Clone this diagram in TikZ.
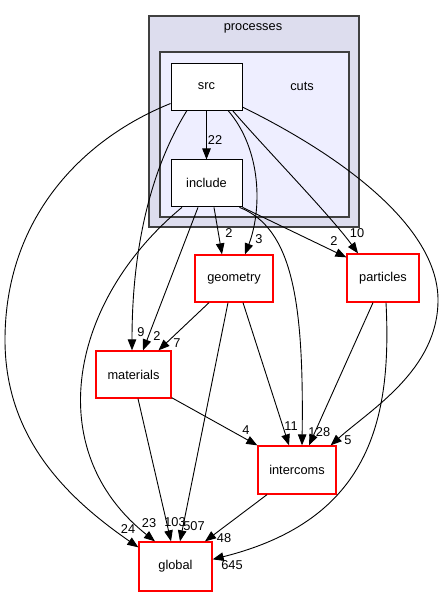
\documentclass[tikz,border=0pt]{standalone}
\usepackage{fontspec}
\setmainfont{Liberation Sans}
\usetikzlibrary{positioning, arrows.meta}
\definecolor{outerfill}{HTML}{DDDDEE}
\definecolor{innerfill}{HTML}{EEEEFF}
\definecolor{framegray}{HTML}{404040}

\begin{document}
\begin{tikzpicture}[
        x=1pt, y=-1pt,
        font=\fontsize{12.8pt}{15pt}\selectfont,
        cluster/.style={draw=framegray, line width=1.2pt, inner sep=0pt},
        dirbox/.style={draw, line width=0.9pt, fill=white, inner sep=0pt,
            minimum width=71pt, minimum height=47pt},
        extdir/.style={draw=red, line width=1.3pt, fill=white, inner sep=0pt,
            minimum height=47pt},
        lbl/.style={inner sep=0pt},
        every path/.style={line width=0.9pt},
        dep/.style={draw, -{Triangle[length=11pt,width=8.5pt]}}
    ]
    \path[fill=white] (0,0) rectangle (444,596);

    % Clusters
    \node (processes) [cluster, fill=outerfill, minimum width=210pt, minimum height=211pt] at (254,121.5) {};
    \node [lbl] at (253,28) {processes};
    \node (cuts) [cluster, fill=innerfill, minimum width=189pt, minimum height=165pt] at (254.5,134.5) {};
    \node [lbl] at (302,86) {cuts};

    % Nodes
    \node (src) [dirbox] at (206.5,86.5) {src};
    \node (include) [dirbox, below=49pt of src] {include};
    \node (geometry) [extdir, minimum width=78pt] at (234,278.5) {geometry};
    \node (particles) [extdir, minimum width=72pt, minimum height=48pt] at (383,278) {particles};
    \node (materials) [extdir, minimum width=75pt] at (133.5,374.5) {materials};
    \node (intercoms) [extdir, minimum width=78pt, minimum height=48pt] at (297,470) {intercoms};
    \node (global) [extdir, minimum width=73pt, minimum height=49pt] at (175.5,566.5) {global};

    % Arrows
    \path[dep] (src) -- (include) node[lbl, at={(215,140)}] {22};
    \path[dep] ([yshift=-17pt]src.west) .. controls (80,140) and (5,220) .. (5,340)
        .. controls (5,440) and (70,500) .. ([yshift=-6pt]global.north west)
        node[lbl, at={(128,529)}] {24};
    \path[dep] ([xshift=-19.5pt]src.south) .. controls (150,170) and (132,250) .. ([xshift=-1.5pt]materials.north)
        node[lbl, at={(141,332)}] {9};
    \path[dep] ([xshift=21.5pt]src.south) .. controls (262,150) and (262,210) .. ([xshift=11pt]geometry.north)
        node[lbl, at={(259,239)}] {3};
    \path[dep] ([xshift=26pt]src.south) .. controls (262,145) and (330,215) .. ([xshift=-25pt]particles.north)
        node[lbl, at={(357,233)}] {10};
    \path[dep] ([yshift=-20.5pt]src.east) .. controls (350,160) and (438,230) .. (438,300)
        .. controls (438,370) and (370,410) .. ([xshift=-6pt]intercoms.north east)
        node[lbl, at={(348,440)}] {5};

    \path[dep] ([xshift=-8.5pt]include.south) -- ([xshift=9.5pt]materials.north) node[lbl, at={(157,336)}] {2};
    \path[dep] ([xshift=-24.5pt]include.south) .. controls (70,300) and (40,450) .. ([xshift=-20.5pt]global.north)
        node[lbl, at={(149,523)}] {23};
    \path[dep] ([xshift=7.5pt]include.south) -- ([xshift=-12pt]geometry.north) node[lbl, at={(229,233)}] {2};
    \path[dep] (include.south east) -- ([yshift=-4pt]particles.north west) node[lbl, at={(334,241)}] {2};
    \path[dep] ([xshift=-3pt]include.south east) .. controls (292,228) and (304,300) .. ([xshift=5pt]intercoms.north)
        node[lbl, at={(312,432)}] {1};

    \path[dep] ([xshift=-25pt]geometry.south) -- ([xshift=25pt]materials.north) node[lbl, at={(177,343)}] {7};
    \path[dep] ([xshift=-6pt]geometry.south) -- ([xshift=4.5pt]global.north) node[lbl, at={(194,526)}] {507};
    \path[dep] ([xshift=9pt]geometry.south) -- ([xshift=-8pt]intercoms.north) node[lbl, at={(291,426)}] {11};

    \path[dep] ([xshift=-10pt]particles.south) -- ([xshift=12pt]intercoms.north) node[lbl, at={(323,432)}] {28};
    \path[dep] ([xshift=3pt]particles.south) .. controls (392,420) and (370,520) .. ([yshift=-18pt]global.north east)
        node[lbl, at={(232,565)}] {645};

    \path[dep] ([yshift=1pt]materials.south east) -- (intercoms.north west) node[lbl, at={(246,430)}] {4};
    \path[dep] ([xshift=4.5pt]materials.south) -- ([xshift=-4.5pt]global.north) node[lbl, at={(175,522)}] {103};

    \path[dep] ([xshift=-30pt]intercoms.south) -- ([xshift=29.5pt]global.north) node[lbl, at={(224,538)}] {48};
\end{tikzpicture}
\end{document}
